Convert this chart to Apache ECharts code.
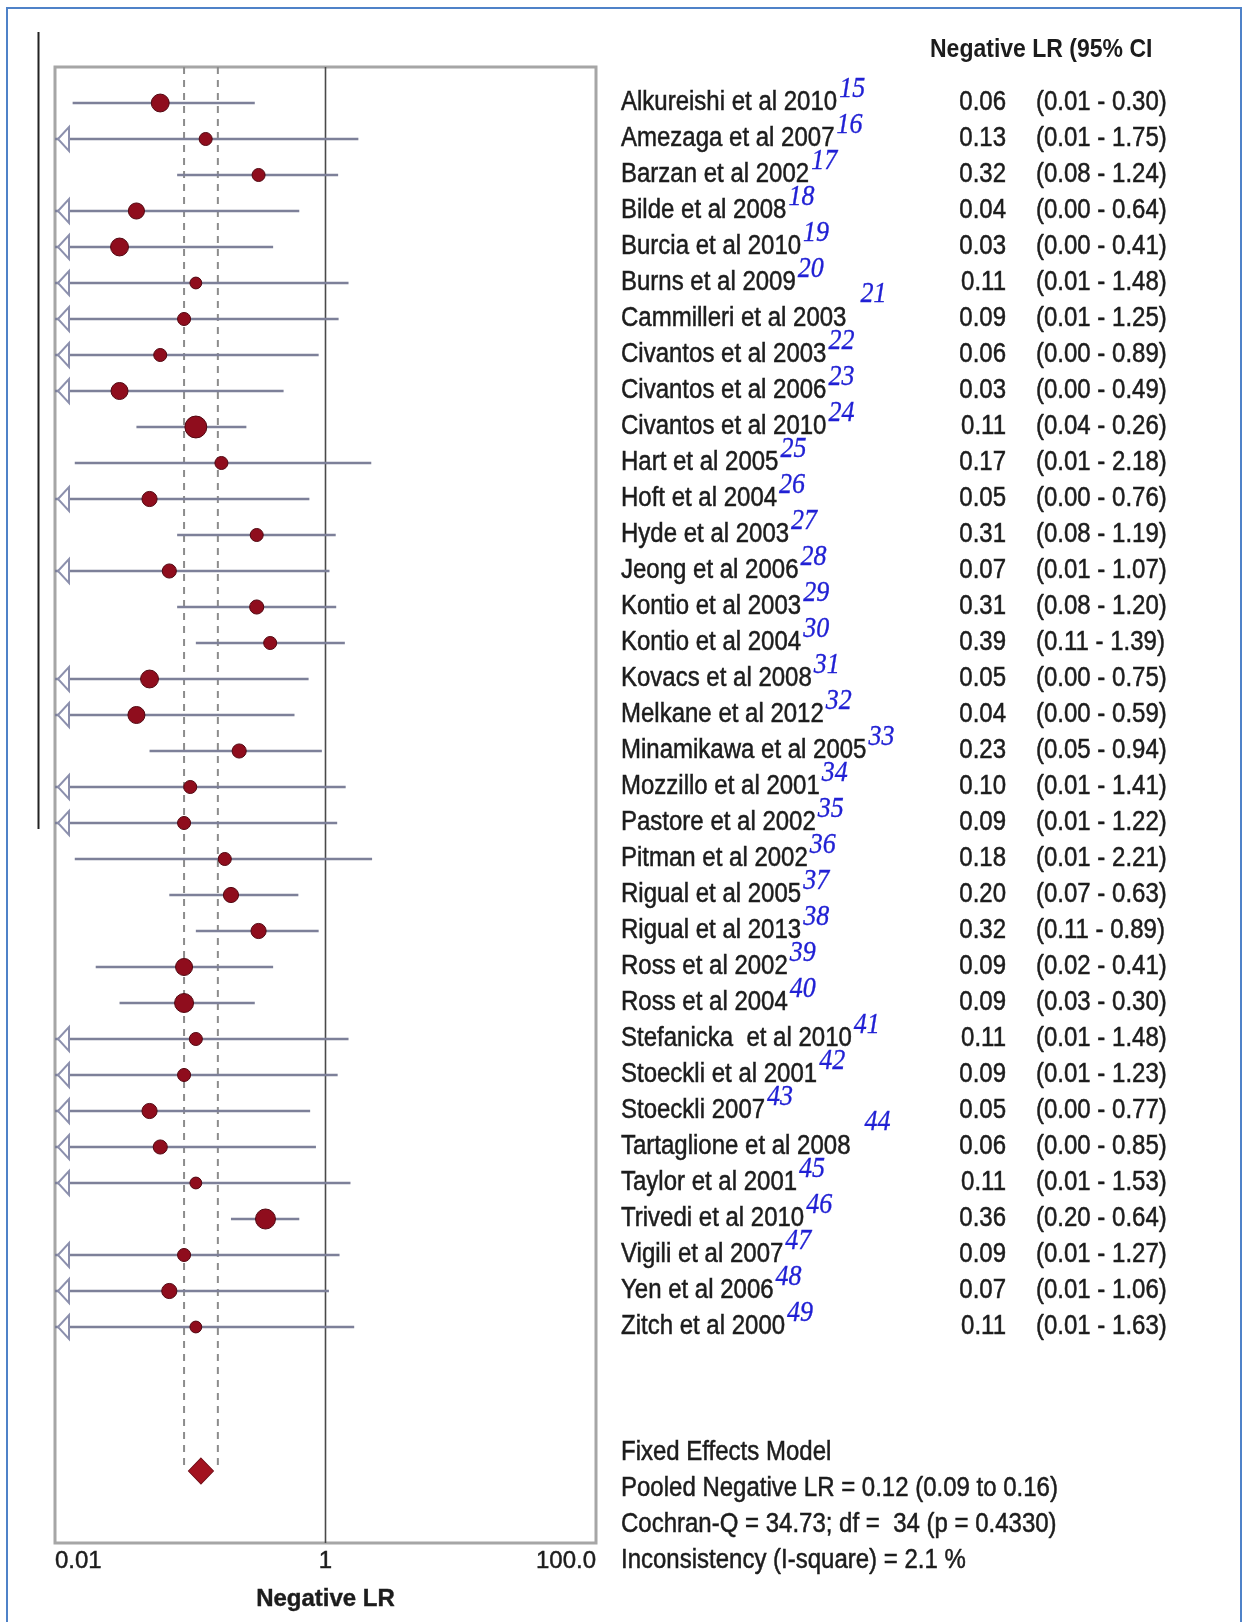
<!DOCTYPE html>
<html>
<head>
<meta charset="utf-8">
<script src="https://cdn.jsdelivr.net/npm/echarts@6/dist/echarts.min.js"></script>
<style>
  html, body { margin: 0; padding: 0; background: #ffffff; }
  #chart { width: 1242px; height: 1622px; }
</style>
</head>
<body>
<div id="chart"></div>
<script>
// ---------------- DATA ----------------
const studies = [
  'Alkureishi et al 2010', 'Amezaga et al 2007', 'Barzan et al 2002', 'Bilde et al 2008',
  'Burcia et al 2010', 'Burns et al 2009', 'Cammilleri et al 2003', 'Civantos et al 2003',
  'Civantos et al 2006', 'Civantos et al 2010', 'Hart et al 2005', 'Hoft et al 2004',
  'Hyde et al 2003', 'Jeong et al 2006', 'Kontio et al 2003', 'Kontio et al 2004',
  'Kovacs et al 2008', 'Melkane et al 2012', 'Minamikawa et al 2005', 'Mozzillo et al 2001',
  'Pastore et al 2002', 'Pitman et al 2002', 'Rigual et al 2005', 'Rigual et al 2013',
  'Ross et al 2002', 'Ross et al 2004', 'Stefanicka  et al 2010', 'Stoeckli et al 2001',
  'Stoeckli 2007', 'Tartaglione et al 2008', 'Taylor et al 2001', 'Trivedi et al 2010',
  'Vigili et al 2007', 'Yen et al 2006', 'Zitch et al 2000'
];
const refs = [15,16,17,18,19,20,21,22,23,24,25,26,27,28,29,30,31,32,33,34,35,36,37,38,39,40,41,42,43,44,45,46,47,48,49];
const estimates = [0.06,0.13,0.32,0.04,0.03,0.11,0.09,0.06,0.03,0.11,0.17,0.05,0.31,0.07,0.31,0.39,0.05,0.04,0.23,0.10,
                   0.09,0.18,0.20,0.32,0.09,0.09,0.11,0.09,0.05,0.06,0.11,0.36,0.09,0.07,0.11];
// lower limits (values below 0.01 are drawn as a left arrow at the axis edge)
const lowers = [0.0135,0.008,0.08,0.003,0.003,0.008,0.008,0.003,0.003,0.04,0.014,0.003,0.08,0.008,0.08,0.11,0.003,0.003,0.05,0.008,
                0.008,0.014,0.07,0.11,0.02,0.03,0.008,0.008,0.003,0.003,0.008,0.20,0.008,0.008,0.008];
const uppers = [0.30,1.75,1.24,0.64,0.41,1.48,1.25,0.89,0.49,0.26,2.18,0.76,1.19,1.07,1.20,1.39,0.75,0.59,0.94,1.41,
                1.22,2.21,0.63,0.89,0.41,0.30,1.48,1.23,0.77,0.85,1.53,0.64,1.27,1.06,1.63];
// relative study weights (%)
const weights = [3.2,1.7,1.7,2.6,3.2,1.4,1.7,1.7,2.9,4.8,1.7,2.3,1.7,2.0,2.0,1.7,3.2,2.9,2.0,1.7,
                 1.7,1.7,2.3,2.3,2.9,3.6,1.7,1.7,2.3,2.0,1.4,4.0,1.7,2.3,1.4];
const pooledEstimate = 0.12;
const pooledCI = [0.09, 0.16];
const xTickValues = [0.01, 1, 100];
const xTickLabels = ['0.01', '1', '100.0'];
const headerText = 'Negative LR (95% CI';
const axisTitle = 'Negative LR';
const summaryLines = [
  'Fixed Effects Model',
  'Pooled Negative LR = 0.12 (0.09 to 0.16)',
  'Cochran-Q = 34.73; df =  34 (p = 0.4330)',
  'Inconsistency (I-square) = 2.1 %'
];
const highRefs = [21, 44];

// ---------------- LAYOUT ----------------
const X_MIN = 0.01, X_MAX = 100;
const Y_MIN = -1, Y_MAX = 40;          // row index domain (rows 0..34, pooled at 38)
const POOLED_ROW = 38;
const FONT = '"Liberation Sans", Arial, sans-serif';
const TXT = '#1c1c1c';
const NAME_X = 621, EST_RIGHT = 1006, CI_LEFT = 1036;
const nameFont = '24px ' + FONT;
const supFont = 'italic 26px "Liberation Serif", "Times New Roman", serif';
const SY = 1.13; // glyphs in the source are slightly tall

const ctx = document.createElement('canvas').getContext('2d');
function textWidth(t, f) { ctx.font = f; return ctx.measureText(t).width; }
function txt(x, y, text, font, fill, align) {
  return {
    type: 'text', x: x, y: y, scaleY: SY,
    style: { x: 0, y: 0, text: text, font: font, fill: fill, align: align || 'left', verticalAlign: 'middle',
             stroke: fill, lineWidth: 0.45 }
  };
}

const chart = echarts.init(document.getElementById('chart'), null, { renderer: 'canvas' });

const option = {
  backgroundColor: '#ffffff',
  animation: false,
  grid: {
    left: 55, top: 67, width: 541, height: 1476,
    show: true, borderColor: '#a6a6a6', borderWidth: 3, backgroundColor: '#ffffff'
  },
  xAxis: {
    type: 'log', logBase: 10, min: X_MIN, max: X_MAX,
    axisLine: { show: false }, axisTick: { show: false }, splitLine: { show: false },
    axisLabel: {
      fontSize: 24, color: TXT, fontFamily: FONT, margin: 6,
      textBorderColor: TXT, textBorderWidth: 0.45,
      alignMinLabel: 'left', alignMaxLabel: 'right',
      formatter: function (v) {
        const e = Math.round(Math.log10(v));
        for (let k = 0; k < xTickValues.length; k++) {
          if (Math.round(Math.log10(xTickValues[k])) === e) return xTickLabels[k];
        }
        return '';
      }
    },
    name: axisTitle, nameLocation: 'middle', nameGap: 44,
    nameTextStyle: { fontSize: 24, fontWeight: 'bold', color: TXT, fontFamily: FONT,
                     textBorderColor: TXT, textBorderWidth: 0.4 }
  },
  yAxis: {
    type: 'value', min: Y_MIN, max: Y_MAX, inverse: true, show: false, splitLine: { show: false }
  },
  graphic: [
    { type: 'rect', shape: { x: 7, y: 8, width: 1234, height: 1700 }, style: { fill: 'none', stroke: '#4f82c8', lineWidth: 2 }, z: 100 },
    { type: 'line', shape: { x1: 38.5, y1: 32, x2: 38.5, y2: 829 }, style: { stroke: '#222222', lineWidth: 2 } },
    { type: 'text', x: 930, y: 50, scaleY: SY,
      style: { x: 0, y: 0, text: headerText, font: 'bold 23px ' + FONT, fill: TXT, verticalAlign: 'middle' } }
  ],
  series: [
    { // line of no effect
      type: 'line', data: [[1, Y_MIN], [1, Y_MAX]], symbol: 'none', silent: true,
      lineStyle: { color: '#4a4a4a', width: 1.6 }, z: 1
    },
    { // pooled CI dashed guides
      type: 'line', data: [[pooledCI[0], Y_MIN], [pooledCI[0], POOLED_ROW]], symbol: 'none', silent: true,
      lineStyle: { color: '#8c8c8c', width: 2, type: [7, 6] }, z: 1
    },
    {
      type: 'line', data: [[pooledCI[1], Y_MIN], [pooledCI[1], POOLED_ROW]], symbol: 'none', silent: true,
      lineStyle: { color: '#8c8c8c', width: 2, type: [7, 6] }, z: 1
    },
    { // confidence intervals with arrows when clipped
      type: 'custom', coordinateSystem: 'cartesian2d', silent: true, clip: false, z: 2,
      data: studies.map((s, i) => [lowers[i], uppers[i], i]),
      encode: { x: [0, 1], y: 2 },
      renderItem: function (params, api) {
        const i = params.dataIndex;
        const pL = api.coord([Math.max(lowers[i], X_MIN), i]);
        const pH = api.coord([Math.min(uppers[i], X_MAX), i]);
        const children = [{
          type: 'line', shape: { x1: pL[0], y1: pL[1], x2: pH[0], y2: pH[1] },
          style: { stroke: '#7d8099', lineWidth: 2.4 }
        }];
        if (lowers[i] < X_MIN) {
          const x0 = pL[0] + 3, y0 = pL[1];
          children.push({
            type: 'polygon', shape: { points: [[x0, y0], [x0 + 11, y0 - 12], [x0 + 11, y0 + 12]] },
            style: { fill: '#ffffff', stroke: '#8c90ad', lineWidth: 2 }
          });
        }
        return { type: 'group', children: children };
      }
    },
    { // point estimates
      type: 'scatter', silent: true, z: 3,
      data: estimates.map((e, i) => [e, i]),
      symbol: 'circle',
      symbolSize: function (v, p) { return 10 * Math.sqrt(weights[p.dataIndex]); },
      itemStyle: { color: '#8f0d1d', borderColor: '#520812', borderWidth: 1, opacity: 1 }
    },
    { // pooled diamond
      type: 'scatter', silent: true, z: 3,
      data: [[pooledEstimate, POOLED_ROW]],
      symbol: 'diamond', symbolSize: [25, 26],
      itemStyle: { color: '#a3121f', borderColor: '#6e0a14', borderWidth: 1, opacity: 1 }
    },
    { // study table text
      type: 'custom', coordinateSystem: 'cartesian2d', silent: true, clip: false, z: 5,
      data: studies.map((s, i) => [1, i]),
      renderItem: function (params, api) {
        const i = params.dataIndex;
        const y = api.coord([1, i])[1];
        const nw = textWidth(studies[i], nameFont);
        const high = highRefs.indexOf(refs[i]) >= 0;
        const sup = txt(NAME_X + nw + (high ? 14 : 2), y - (high ? 25 : 14), String(refs[i]), supFont, '#2020d4');
        sup.style.lineWidth = 0.3;
        return {
          type: 'group', children: [
            txt(NAME_X, y, studies[i], nameFont, TXT),
            sup,
            txt(EST_RIGHT, y, estimates[i].toFixed(2), nameFont, TXT, 'right'),
            txt(CI_LEFT, y, '(' + lowers[i].toFixed(2) + ' - ' + uppers[i].toFixed(2) + ')', nameFont, TXT)
          ]
        };
      }
    },
    { // summary text block
      type: 'custom', coordinateSystem: 'cartesian2d', silent: true, clip: false, z: 5,
      data: summaryLines.map((t, k) => [1, POOLED_ROW - 0.5 + k]),
      renderItem: function (params, api) {
        const k = params.dataIndex;
        const y = api.coord([1, POOLED_ROW - 0.5 + k])[1];
        return txt(NAME_X, y, summaryLines[k], nameFont, TXT);
      }
    }
  ]
};
chart.setOption(option);
</script>
</body>
</html>
